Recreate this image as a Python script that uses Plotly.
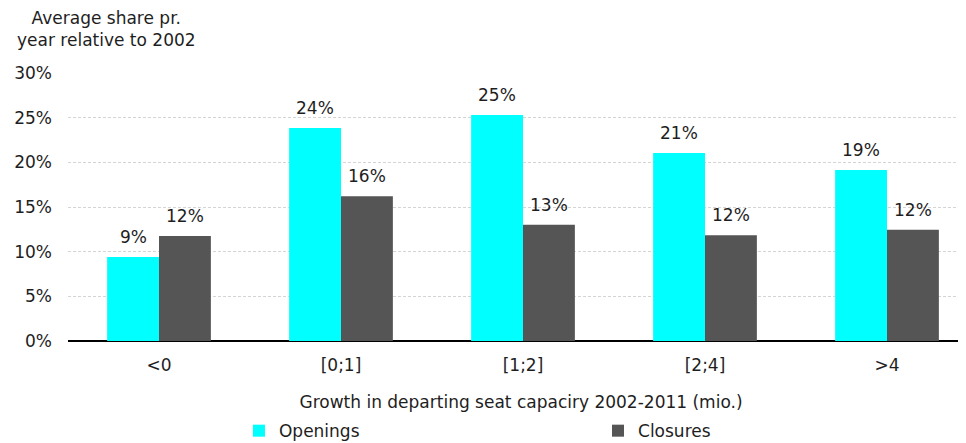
import plotly.graph_objects as go

categories = ["<0", "[0;1]", "[1;2]", "[2;4]", ">4"]
openings = [9.4, 23.85, 25.3, 21.05, 19.15]
closures = [11.75, 16.2, 13.0, 11.85, 12.45]
open_labels = ["9%", "24%", "25%", "21%", "19%"]
close_labels = ["12%", "16%", "13%", "12%", "12%"]
y_ticks = [0, 5, 10, 15, 20, 25, 30]
y_tick_labels = ["0%", "5%", "10%", "15%", "20%", "25%", "30%"]

FONT = "DejaVu Sans"
TXT = "#1E1E1E"
FS = 17

fig = go.Figure()
fig.add_trace(go.Bar(
    x=categories, y=openings, name="Openings", legend="legend",
    marker=dict(color="#00FFFF", line=dict(width=0)),
))
fig.add_trace(go.Bar(
    x=categories, y=closures, name="Closures", legend="legend2",
    marker=dict(color="#555555", line=dict(width=0)),
))

annotations = []
for cat, v, lab in zip(categories, openings, open_labels):
    annotations.append(dict(x=cat, y=v, text=lab, xref="x", yref="y", showarrow=False,
                            xshift=-26, yshift=8, yanchor="bottom",
                            font=dict(family=FONT, size=FS, color=TXT)))
for cat, v, lab in zip(categories, closures, close_labels):
    annotations.append(dict(x=cat, y=v, text=lab, xref="x", yref="y", showarrow=False,
                            xshift=26, yshift=8, yanchor="bottom",
                            font=dict(family=FONT, size=FS, color=TXT)))
annotations.append(dict(
    text="Average share pr.<br>year relative to 2002",
    xref="paper", yref="paper", x=0.043, y=1.0, xanchor="center", yanchor="bottom",
    yshift=21, showarrow=False, align="center",
    font=dict(family=FONT, size=FS, color=TXT),
))

leg_common = dict(
    orientation="h", xanchor="left", yref="container", y=0.0855, yanchor="top",
    font=dict(family=FONT, size=FS, color=TXT), bgcolor="rgba(0,0,0,0)",
)

fig.update_layout(
    width=966, height=443,
    margin=dict(l=60, r=0, t=65, b=110),
    paper_bgcolor="white", plot_bgcolor="white",
    barmode="group", bargap=0.43, bargroupgap=0,
    font=dict(family=FONT, size=FS, color=TXT),
    showlegend=True,
    legend=dict(x=0.1887, **leg_common),
    legend2=dict(x=0.585, **leg_common),
    xaxis=dict(
        range=[-0.5, 4.478], automargin=False,
        showgrid=False, showline=False, ticks="", ticklabelstandoff=12,
        tickfont=dict(family=FONT, size=FS, color=TXT),
        title=dict(text="Growth in departing seat capaciry 2002-2011 (mio.)",
                   font=dict(family=FONT, size=FS, color=TXT), standoff=22),
    ),
    yaxis=dict(
        range=[0, 30], tickvals=y_ticks, ticktext=y_tick_labels, automargin=False,
        showgrid=True, gridcolor="#D4D4D4", griddash="3px,2px", gridwidth=1,
        zeroline=True, zerolinecolor="#000000", zerolinewidth=1.5,
        showline=False, ticks="", ticklabelstandoff=15,
        tickfont=dict(family=FONT, size=FS, color=TXT),
    ),
    annotations=annotations,
)

fig.write_html("out.html")
